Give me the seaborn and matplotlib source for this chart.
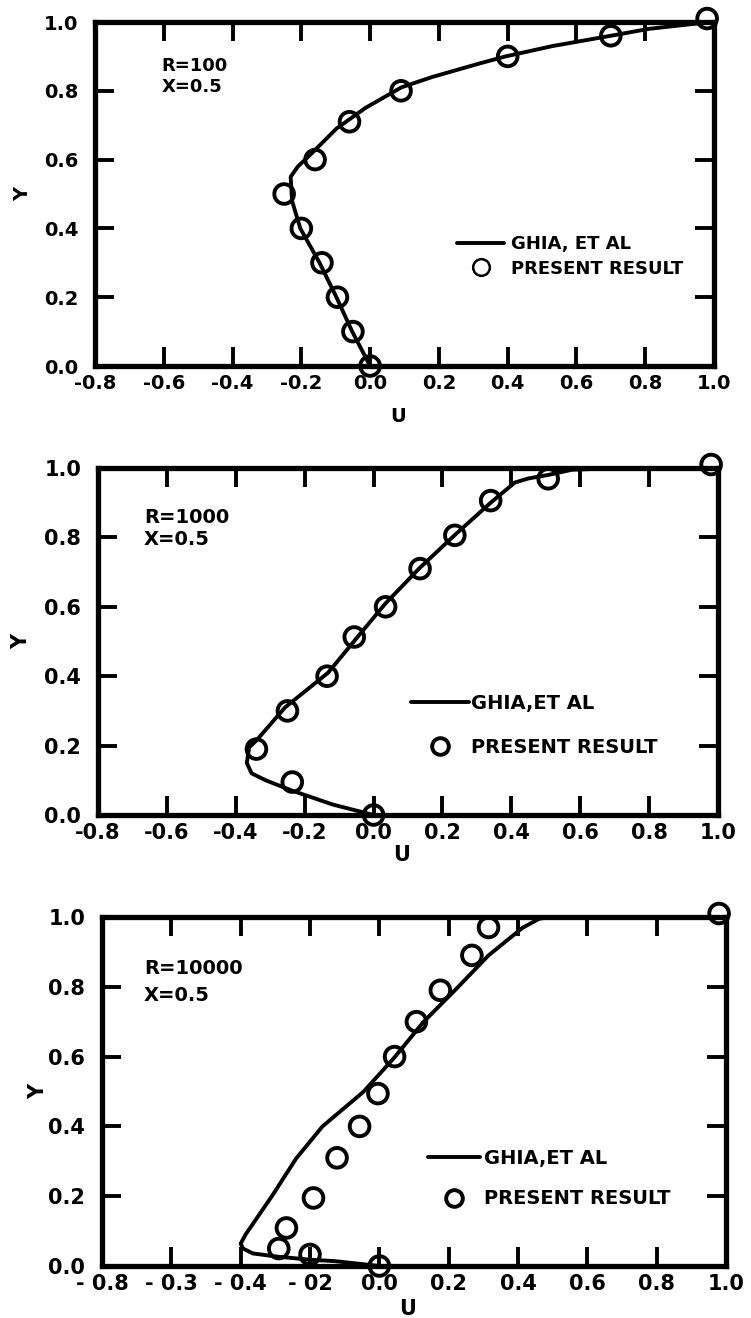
import numpy as np
import pandas as pd
import matplotlib
matplotlib.use("Agg")
import matplotlib.pyplot as plt
from matplotlib.lines import Line2D
import seaborn as sns

sns.set_style("ticks")
plt.rcParams['font.family'] = ['DejaVu Sans']
plt.rcParams.update({"text.color": "black", "axes.labelcolor": "black",
                     "xtick.color": "black", "ytick.color": "black",
                     "axes.edgecolor": "black"})

# ---------------- data ----------------
# Panel 1: R=100
p1_line_u = [0.0, -0.052, -0.098, -0.147, -0.203, -0.227, -0.231, -0.21, -0.168, -0.098,
             -0.014, 0.091, 0.18, 0.32, 0.394, 0.53, 0.70, 0.81, 0.99]
p1_line_y = [0.0, 0.10, 0.20, 0.30, 0.40, 0.48, 0.55, 0.58, 0.62, 0.69,
             0.75, 0.81, 0.84, 0.88, 0.90, 0.93, 0.96, 0.98, 1.0]
p1_pts_u = [0.98, 0.70, 0.40, 0.09, -0.06, -0.16, -0.25, -0.20, -0.14, -0.095, -0.05, 0.0]
p1_pts_y = [1.01, 0.96, 0.90, 0.80, 0.71, 0.60, 0.50, 0.40, 0.30, 0.20, 0.10, 0.0]

# Panel 2: R=1000
p2_line_u = [0.0, -0.118, -0.236, -0.313, -0.354, -0.368, -0.361, -0.34, -0.257, -0.132,
             -0.049, 0.035, 0.132, 0.236, 0.34, 0.41, 0.45, 0.507, 0.576, 0.715, 0.98]
p2_line_y = [0.0, 0.03, 0.07, 0.10, 0.12, 0.15, 0.195, 0.215, 0.31, 0.41,
             0.51, 0.61, 0.71, 0.807, 0.90, 0.958, 0.97, 0.98, 0.995, 1.0, 1.0]
p2_pts_u = [0.98, 0.507, 0.34, 0.236, 0.135, 0.035, -0.056, -0.135, -0.25, -0.34, -0.236, 0.0]
p2_pts_y = [1.01, 0.969, 0.906, 0.806, 0.71, 0.60, 0.513, 0.40, 0.30, 0.19, 0.095, 0.0]

# Panel 3: R=10000
p3_line_u = [0.0, -0.129, -0.199, -0.296, -0.365, -0.393, -0.40, -0.386, -0.31, -0.24,
             -0.164, -0.046, 0.044, 0.128, 0.218, 0.315, 0.413, 0.461, 0.496, 0.996]
p3_line_y = [0.0, 0.014, 0.018, 0.027, 0.036, 0.05, 0.064, 0.09, 0.20, 0.308,
             0.40, 0.499, 0.598, 0.70, 0.79, 0.89, 0.969, 0.995, 1.0, 1.0]
p3_pts_u = [0.98, 0.315, 0.267, 0.176, 0.107, 0.044, -0.004, -0.057, -0.122, -0.19, -0.268, -0.29, -0.20, 0.0]
p3_pts_y = [1.01, 0.97, 0.89, 0.79, 0.70, 0.60, 0.494, 0.40, 0.31, 0.195, 0.109, 0.05, 0.033, 0.0]

x_ticks = [-0.8, -0.6, -0.4, -0.2, 0.0, 0.2, 0.4, 0.6, 0.8, 1.0]
x_labels_std = ["-0.8", "-0.6", "-0.4", "-0.2", "0.0", "0.2", "0.4", "0.6", "0.8", "1.0"]
x_labels_p3 = ["- 0.8", "- 0.3", "- 0.4", "- 02", "0.0", "0.2", "0.4", "0.6", "0.8", "1.0"]
y_ticks = [0.0, 0.2, 0.4, 0.6, 0.8, 1.0]
y_labels = ["0.0", "0.2", "0.4", "0.6", "0.8", "1.0"]

panel_notes = ["R=100\nX=0.5", "R=1000\nX=0.5", "R=10000\nX=0.5"]
legend_line_labels = ["GHIA, ET AL", "GHIA,ET AL", "GHIA,ET AL"]
legend_pt_label = "PRESENT RESULT"

# ---------------- figure ----------------
fig = plt.figure(figsize=(7.51, 13.18), dpi=100)
W, H = 751, 1318
boxes = [(95, 22, 714, 366), (98, 468, 718, 815), (102, 917, 726, 1266)]
axes = []
for (l, t, r, b) in boxes:
    axes.append(fig.add_axes([l / W, (H - b) / H, (r - l) / W, (b - t) / H]))

panels = [
    (p1_line_u, p1_line_y, p1_pts_u, p1_pts_y, x_labels_std),
    (p2_line_u, p2_line_y, p2_pts_u, p2_pts_y, x_labels_std),
    (p3_line_u, p3_line_y, p3_pts_u, p3_pts_y, x_labels_p3),
]
note_pos = [(0.107, 0.842, 1.2), (0.074, 0.826, 1.2), (0.067, 0.814, 1.55)]
leg_pos = [(0.585, 0.38, 0.35, 2.6, 0.4), (0.505, 0.35, 1.3, 3.0, 0.1), (0.522, 0.335, 1.1, 2.7, 0.2)]
fs_list = [14, 15, 15]
xlab_y = [-0.119, -0.086, -0.095]
ylab_x = [-0.102, -0.107, -0.087]

for i, ax in enumerate(axes):
    lu, ly, pu, py, xl = panels[i]
    fs = fs_list[i]
    dline = pd.DataFrame({"U": lu, "Y": ly})
    dpts = pd.DataFrame({"U": pu, "Y": py})
    sns.lineplot(data=dline, x="U", y="Y", sort=False, estimator=None, color="black",
                 lw=2.8, ax=ax, clip_on=False, zorder=3)
    sns.scatterplot(data=dpts, x="U", y="Y", marker="o", s=200, facecolors="none",
                    edgecolors="black", linewidth=2.8, ax=ax, clip_on=False, zorder=4)
    for coll in ax.collections:
        coll.set_facecolor("none")
        coll.set_edgecolor("black")

    ax.set_xlim(-0.8, 1.0)
    ax.set_ylim(0.0, 1.0)
    ax.set_xticks(x_ticks)
    ax.set_xticklabels(xl, fontsize=fs, fontweight="bold")
    ax.set_yticks(y_ticks)
    ax.set_yticklabels(y_labels, fontsize=fs, fontweight="bold")
    ax.tick_params(axis="both", direction="in", length=14, width=2.8, color="black",
                   top=True, right=True)
    ax.tick_params(axis="x", pad=6)
    ax.tick_params(axis="y", pad=12)
    for sp in ax.spines.values():
        sp.set_linewidth(3.8)
        sp.set_color("black")
        sp.set_visible(True)
    ax.grid(False)

    ax.set_xlabel("U", fontsize=fs, fontweight="bold")
    ax.xaxis.set_label_coords(0.49, xlab_y[i])
    ax.set_ylabel("Y", fontsize=fs, fontweight="bold")
    ax.yaxis.set_label_coords(ylab_x[i], 0.5)

    nx, ny, lsp = note_pos[i]
    ax.text(nx, ny, panel_notes[i], transform=ax.transAxes, fontsize=fs - 1, ha="left",
            va="center", linespacing=lsp, fontweight="bold")

    lx, lyy, lspc, hlen, htp = leg_pos[i]
    handles = [Line2D([], [], color="black", lw=2.8),
               Line2D([], [], color="black", marker="o", ls="", markersize=12,
                      markerfacecolor="none", markeredgewidth=2.8 if i else 1.8)]
    ax.legend(handles, [legend_line_labels[i], legend_pt_label], loc="upper left",
              bbox_to_anchor=(lx, lyy), frameon=False, borderpad=0, borderaxespad=0,
              labelspacing=lspc, handlelength=hlen, handletextpad=htp,
              prop={"size": fs - 1, "weight": "bold"})

fig.savefig("out.png", dpi=100)
